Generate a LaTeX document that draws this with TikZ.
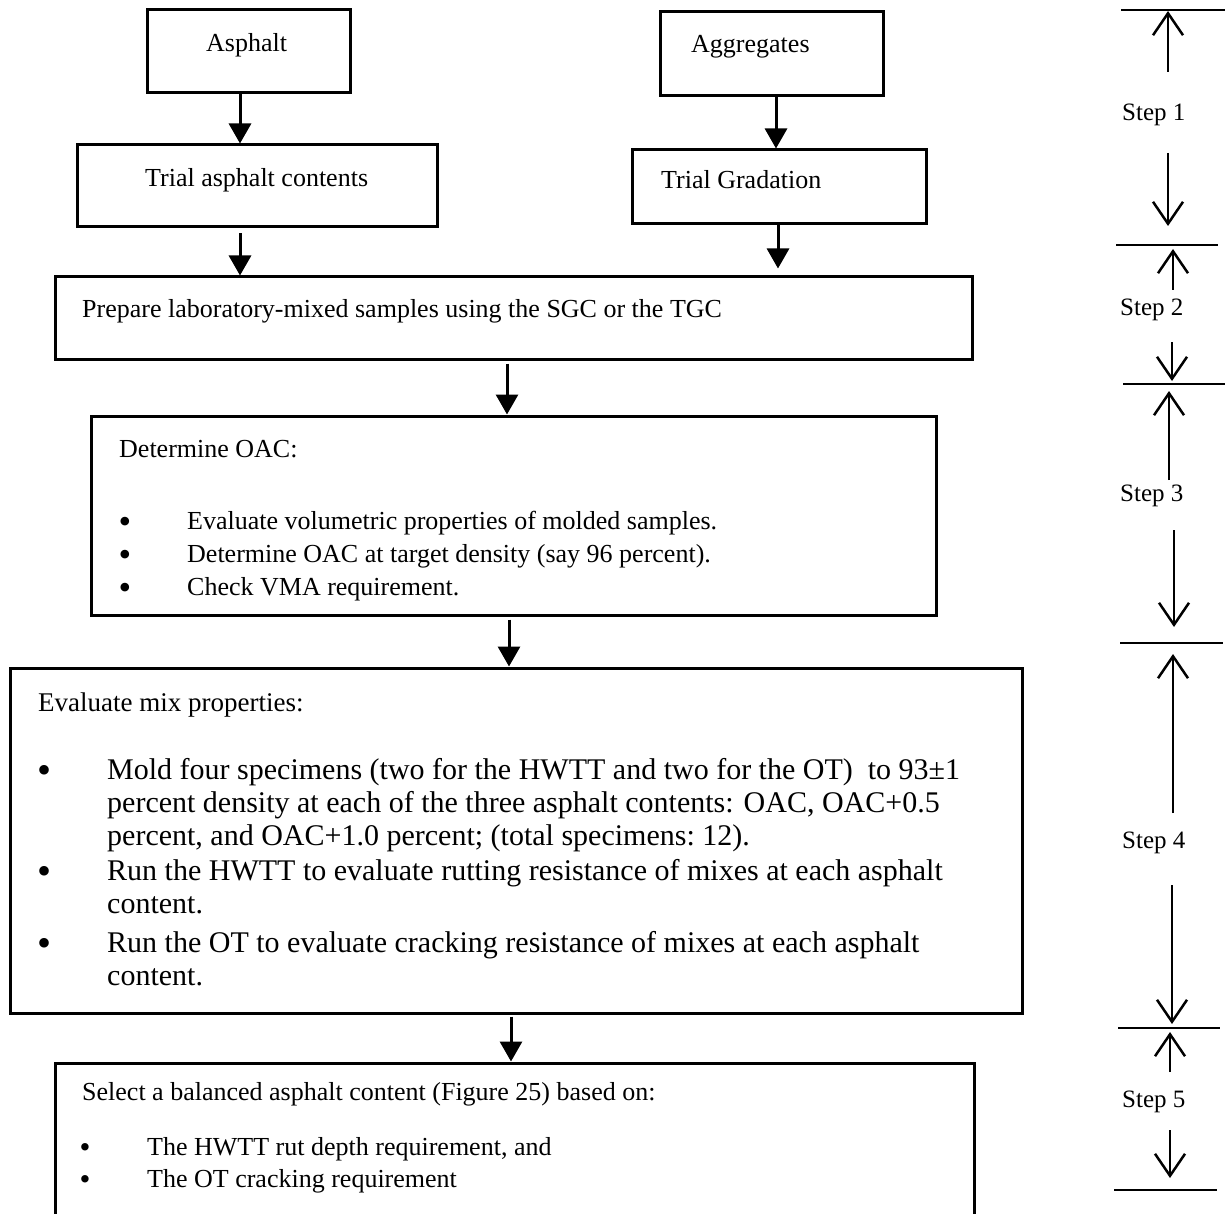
\documentclass[tikz,border=0pt]{standalone}
\usepackage{fontspec}
\setmainfont{Liberation Serif}
\usetikzlibrary{arrows.meta}
\begin{document}
\begin{tikzpicture}[x=1pt,y=-1pt,
  box/.style={draw, line width=3pt, inner sep=0pt},
  flow/.style={line width=3pt, -{Triangle[length=20pt,width=22pt]}},
  sline/.style={line width=2.5pt},
  stepar/.style={line width=2.5pt, -{Straight Barb[length=22pt,width=30pt]}},
  txt/.style={anchor=base west, inner sep=0pt, font=\fontsize{26}{30}\selectfont},
  htxt/.style={anchor=base west, inner sep=0pt, font=\fontsize{27}{32}\selectfont},
  btxt/.style={anchor=base west, inner sep=0pt, font=\fontsize{30}{34}\selectfont},
  bul/.style={anchor=base, inner sep=0pt, yshift=-4pt, font=\fontsize{36}{40}\selectfont},
  sbul/.style={anchor=base, inner sep=0pt, yshift=-2pt, font=\fontsize{31}{32}\selectfont},
  bbul/.style={anchor=base, inner sep=0pt, yshift=-4pt, font=\fontsize{40}{44}\selectfont},
  steplbl/.style={anchor=base west, inner sep=0pt, font=\fontsize{25}{30}\selectfont},
]
\useasboundingbox (0,0) rectangle (1225,1214);

% boxes
\node[box, minimum width=203pt, minimum height=83pt] (asph) at (248.5,51.5) {};
\node[box, minimum width=360pt, minimum height=82pt] (tac) at (257,186) {};
\node[box, minimum width=223pt, minimum height=84pt] (agg) at (771.5,54) {};
\node[box, minimum width=294pt, minimum height=74pt] (tgr) at (779,187) {};
\node[box, minimum width=917pt, minimum height=82pt] (prep) at (513.5,318) {};
\node[box, minimum width=845pt, minimum height=199pt] (doac) at (513.5,515.5) {};
\node[box, minimum width=1012pt, minimum height=345pt] (emix) at (516,840.5) {};
\node[box, minimum width=919pt, minimum height=177pt] (sel) at (514.5,1151.5) {};

% texts
\node[txt] (tAsph) at (206,52) {Asphalt};
\node[txt] (tTac) at (145,187) {Trial asphalt contents};
\node[txt] (tAgg) at (691,53) {Aggregates};
\node[txt] (tTgr) at (661,189) {Trial Gradation};
\node[txt] (tPrep) at (82,317) {Prepare laboratory-mixed samples using the SGC or the TGC};

\node[txt] (tDoac) at (119,457) {Determine OAC:};
\node[bul] (bd1) at (125,529) {\textbullet};
\node[txt] (td1) at (187,529) {Evaluate volumetric properties of molded samples.};
\node[bul] (bd2) at (125,562) {\textbullet};
\node[txt] (td2) at (187,562) {Determine OAC at target density (say 96 percent).};
\node[bul] (bd3) at (125,595) {\textbullet};
\node[txt] (td3) at (187,595) {Check VMA requirement.};

\node[htxt] (tEmix) at (38,711) {Evaluate mix properties:};
\node[bbul] (be1) at (45,779) {\textbullet};
\node[btxt] (te1) at (107,779) {Mold four specimens (two for the HWTT and two for the OT)\ \ to 93±1};
\node[btxt] (te2) at (107,812) {percent density at each of the three asphalt contents: OAC, OAC+0.5};
\node[btxt] (te3) at (107,845) {percent, and OAC+1.0 percent; (total specimens:\ 12).};
\node[bbul] (be2) at (45,880) {\textbullet};
\node[btxt] (te4) at (107,880) {Run the HWTT to evaluate rutting resistance of mixes at each asphalt};
\node[btxt] (te5) at (107,913) {content.};
\node[bbul] (be3) at (45,952) {\textbullet};
\node[btxt] (te6) at (107,952) {Run the OT to evaluate cracking resistance of mixes at each asphalt};
\node[btxt] (te7) at (107,985) {content.};

\node[txt] (tSel) at (82,1100) {Select a balanced asphalt content (Figure 25) based on:};
\node[sbul] (bs1) at (85,1155) {\textbullet};
\node[txt] (ts1) at (147,1155) {The HWTT rut depth requirement, and};
\node[sbul] (bs2) at (85,1187) {\textbullet};
\node[txt] (ts2) at (147,1187) {The OT cracking requirement};

% connector x positions
\coordinate (xa) at (240,0);
\coordinate (xb) at (776,0);
\coordinate (xc) at (778,0);
\coordinate (xd) at (507,0);
\coordinate (xe) at (509,0);
\coordinate (xf) at (511,0);

\draw[flow] (asph.south -| xa) -- (tac.north -| xa);
\draw[flow] (agg.south -| xb) -- (tgr.north -| xb);
\draw[flow, shorten <=5pt] (tac.south -| xa) -- (prep.north -| xa);
\draw[flow] (tgr.south -| xc) -- ([yshift=7pt]prep.north -| xc);
\draw[flow, shorten <=3pt] (prep.south -| xd) -- (doac.north -| xd);
\draw[flow, shorten <=3pt] (doac.south -| xe) -- (emix.north -| xe);
\draw[flow, shorten <=2pt] (emix.south -| xf) -- (sel.north -| xf);

% step scale on the right
\coordinate (L0a) at (1121,10);  \coordinate (L0b) at (1225,10);
\coordinate (L1a) at (1116,245); \coordinate (L1b) at (1218,245);
\coordinate (L2a) at (1123,384); \coordinate (L2b) at (1225,384);
\coordinate (L3a) at (1120,643); \coordinate (L3b) at (1223,643);
\coordinate (L4a) at (1118,1028); \coordinate (L4b) at (1220,1028);
\coordinate (L5a) at (1114,1190); \coordinate (L5b) at (1217,1190);
\draw[sline] (L0a) -- (L0b);
\draw[sline] (L1a) -- (L1b);
\draw[sline] (L2a) -- (L2b);
\draw[sline] (L3a) -- (L3b);
\draw[sline] (L4a) -- (L4b);
\draw[sline] (L5a) -- (L5b);

\node[steplbl] (s1) at (1122,121) {Step 1};
\node[steplbl] (s2) at (1120,316) {Step 2};
\node[steplbl] (s3) at (1120,501) {Step 3};
\node[steplbl] (s4) at (1122,848) {Step 4};
\node[steplbl] (s5) at (1122,1107) {Step 5};

\coordinate (u1a) at (1168,72);   \coordinate (u1b) at (1168,11);
\coordinate (d1a) at (1168,153);  \coordinate (d1b) at (1168,226);
\coordinate (u2a) at (1173,290);  \coordinate (u2b) at (1173,249);
\coordinate (d2a) at (1172,342);  \coordinate (d2b) at (1172,381);
\coordinate (u3a) at (1169,480);  \coordinate (u3b) at (1169,391);
\coordinate (d3a) at (1174,530);  \coordinate (d3b) at (1174,627);
\coordinate (u4a) at (1173,813);  \coordinate (u4b) at (1173,654);
\coordinate (d4a) at (1172,885);  \coordinate (d4b) at (1172,1024);
\coordinate (u5a) at (1170,1072); \coordinate (u5b) at (1170,1032);
\coordinate (d5a) at (1170,1130); \coordinate (d5b) at (1170,1178);
\draw[stepar] (u1a) -- (u1b);
\draw[stepar] (d1a) -- (d1b);
\draw[stepar] (u2a) -- (u2b);
\draw[stepar] (d2a) -- (d2b);
\draw[stepar] (u3a) -- (u3b);
\draw[stepar] (d3a) -- (d3b);
\draw[stepar] (u4a) -- (u4b);
\draw[stepar] (d4a) -- (d4b);
\draw[stepar] (u5a) -- (u5b);
\draw[stepar] (d5a) -- (d5b);
\end{tikzpicture}
\end{document}
